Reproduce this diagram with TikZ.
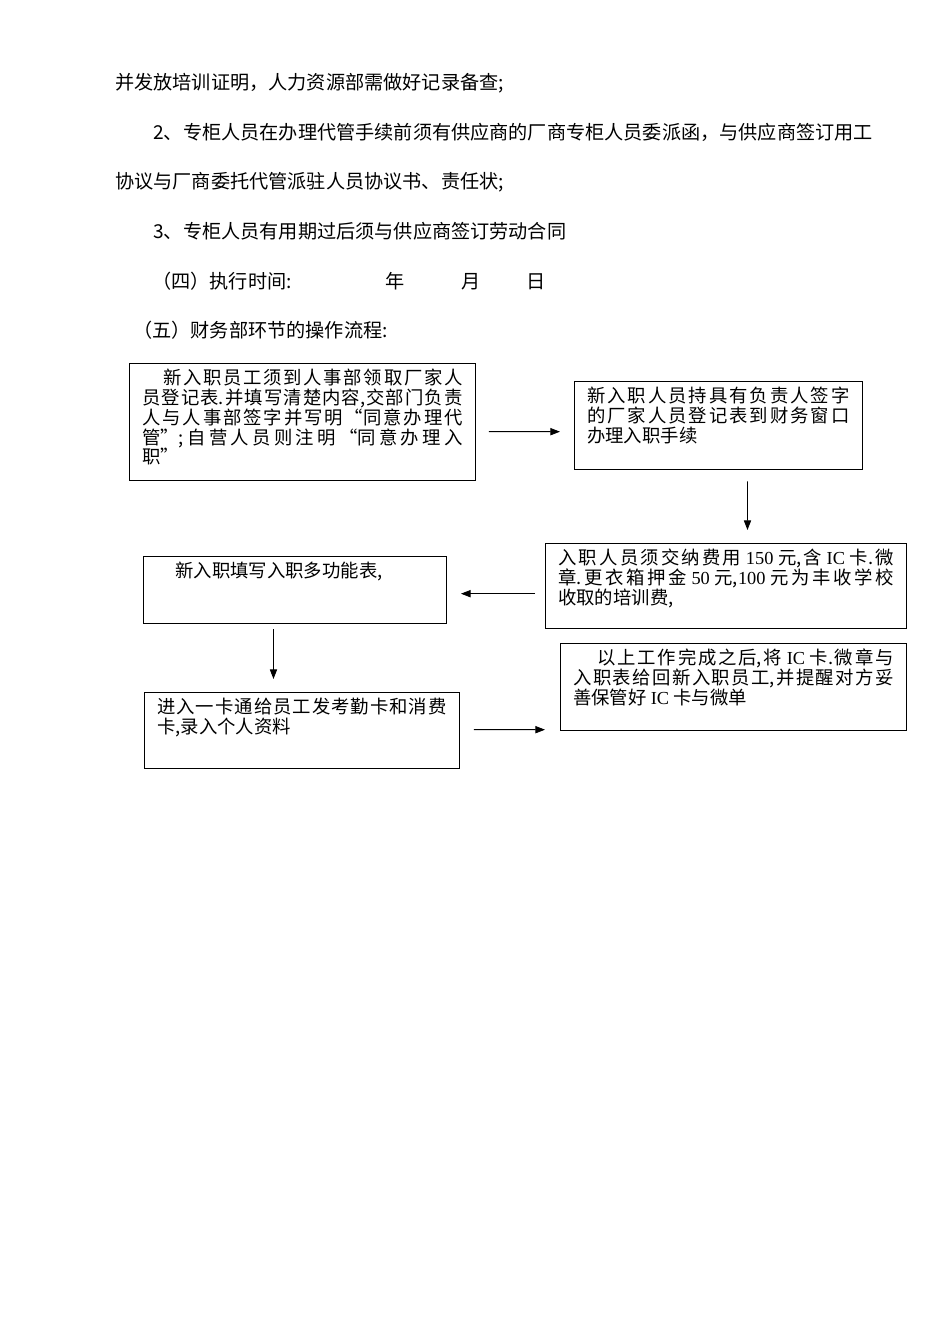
\documentclass[tikz,border=0pt]{standalone}
\usepackage{fontspec}
\usepackage{amsmath}
\usetikzlibrary{arrows.meta,calc}
\setmainfont{Noto Sans CJK SC}
\newfontfamily\latn{Liberation Serif}
\XeTeXlinebreaklocale "zh"
\XeTeXlinebreakskip=0pt plus 6pt
\newdimen\pxu
\pxu=0.6263pt
\newcommand{\cardtext}[3]{\parbox[t][\dimexpr#2\pxu-8pt\relax][t]{\dimexpr#1\pxu-16pt\relax}{\fontsize{11.5pt}{12.4pt}\selectfont #3}}

\begin{document}
\begin{tikzpicture}[x=0.6263pt, y=-0.6263pt,
  para/.style={anchor=base west, inner sep=0pt, font=\fontsize{12pt}{14pt}\selectfont},
  card/.style={draw, line width=0.6pt, anchor=north west, inner xsep=8pt, inner ysep=3.5pt},
  flow/.style={line width=0.6pt, -{Triangle[length=6pt,width=4.5pt]}}]
\useasboundingbox (0,0) rectangle (950,1344);
\node[para] (p1) at (115, 89.5){并发放培训证明，人力资源部需做好记录备查;};
\node[para] (p2) at (153, 139.5){2、专柜人员在办理代管手续前须有供应商的厂商专柜人员委派函，与供应商签订用工};
\node[para] (p3) at (115, 188.5){协议与厂商委托代管派驻人员协议书、责任状;};
\node[para] (p4) at (153, 238.5){3、专柜人员有用期过后须与供应商签订劳动合同};
\node[para] (p5) at (152, 288.5){（四）执行时间:};
\node[para] (year) at (385, 288.5){年};
\node[para] (month) at (461, 288.5){月};
\node[para] (day) at (526, 288.5){日};
\node[para] (p6) at (133, 337.5){（五）财务部环节的操作流程:};
\node[card] (boxA) at (129, 363){\cardtext{346}{119}{\hspace*{13pt}新入职员工须到人事部领取厂家人\linebreak 员登记表.并填写清楚内容,交部门负责\linebreak 人与人事部签字并写明“同意办理代\linebreak 管”;自营人员则注明“同意办理入\linebreak 职”}};
\node[card] (boxB) at (574, 381){\cardtext{288}{90}{新入职人员持具有负责人签字\linebreak 的厂家人员登记表到财务窗口\linebreak 办理入职手续}};
\node[card] (boxC) at (545, 543){\cardtext{361}{87}{入职人员须交纳费用 {\latn 150} 元,含 {\latn IC} 卡.微\linebreak 章.更衣箱押金 {\latn 50} 元,{\latn 100} 元为丰收学校\linebreak 收取的培训费,}};
\node[card] (boxD) at (143, 556){\cardtext{303}{69}{\hspace*{12pt}新入职填写入职多功能表,}};
\node[card] (boxE) at (144, 692){\cardtext{315}{78}{进入一卡通给员工发考勤卡和消费\linebreak 卡,录入个人资料}};
\node[card] (boxF) at (560, 643){\cardtext{346}{89}{\hspace*{15pt}以上工作完成之后,将 {\latn IC} 卡.微章与\linebreak 入职表给回新入职员工,并提醒对方妥\linebreak 善保管好 {\latn IC} 卡与微单}};
\draw[flow] ($(boxA.east)+(13,9.5)$) -- ($(boxB.west)+(-14,6)$);
\draw[flow] ($(boxB.south)+(29,11)$) -- ($(boxC.north)+(21.5,-13)$);
\draw[flow] ($(boxC.west)+(-10,7.5)$) -- ($(boxD.east)+(14,3.5)$);
\draw[flow] ($(boxD.south)+(-21.5,5)$) -- ($(boxE.north)+(-28.5,-13)$);
\draw[flow] ($(boxE.east)+(14,-1)$) -- ($(boxF.west)+(-15,42.5)$);
\end{tikzpicture}
\end{document}
